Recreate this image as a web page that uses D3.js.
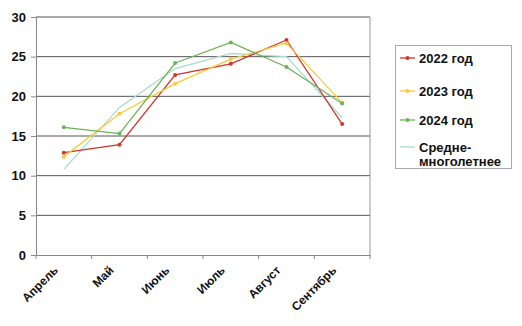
<!DOCTYPE html>
<html>
<head>
<meta charset="utf-8">
<script src="https://cdn.jsdelivr.net/npm/d3@7/dist/d3.min.js"></script>
<style>
  body { margin: 0; background: #fff; }
  svg { font-family: "Liberation Sans", Arial, sans-serif; }
</style>
</head>
<body>
<div id="chart"></div>
<script>
// Data
const months = ['Апрель', 'Май', 'Июнь', 'Июль', 'Август', 'Сентябрь'];
const y2022 = [12.9, 13.9, 22.7, 24.1, 27.1, 16.5];
const y2023 = [12.4, 17.8, 21.6, 24.7, 26.7, 19.2];
const y2024 = [16.1, 15.3, 24.2, 26.8, 23.7, 19.1];
const average = [10.8, 18.6, 23.5, 25.4, 25.0, 17.3];
const yTicks = [0, 5, 10, 15, 20, 25, 30];

const series = [
    {name: '2022 год', values: y2022, color: '#d0342c', marker: true},
    {name: '2023 год', values: y2023, color: '#f8c93a', marker: true},
    {name: '2024 год', values: y2024, color: '#6cb25a', marker: true},
    {name: ['Средне-', 'многолетнее'], values: average, color: '#a9dccd', marker: false}
];

const width = 522, height = 326;
const plot = {left: 36, right: 370, top: 17, bottom: 255};

const svg = d3.select('#chart')
    .append('svg')
    .attr('width', width)
    .attr('height', height);

// Scales
const x = d3.scaleBand()
    .domain(months)
    .range([plot.left, plot.right]);

const y = d3.scaleLinear()
    .domain([0, 30])
    .range([plot.bottom, plot.top]);

// Grid lines
svg.append('g')
    .selectAll('line')
    .data(yTicks.filter(d => d > 0))
    .enter()
    .append('line')
    .attr('x1', plot.left)
    .attr('x2', plot.right)
    .attr('y1', d => y(d))
    .attr('y2', d => y(d))
    .attr('stroke', '#555')
    .attr('stroke-width', 1);

// Right border
svg.append('line')
    .attr('x1', plot.right).attr('x2', plot.right)
    .attr('y1', plot.top).attr('y2', plot.bottom)
    .attr('stroke', '#999');

// Y axis
svg.append('g')
    .attr('transform', `translate(${plot.left},0)`)
    .call(d3.axisLeft(y).tickValues(yTicks).tickSize(5).tickSizeOuter(0))
    .call(g => g.select('.domain').attr('stroke', '#888'))
    .call(g => g.selectAll('.tick line').attr('stroke', '#888'))
    .call(g => g.selectAll('text')
        .attr('font-size', '13px')
        .attr('font-weight', 'bold')
        .attr('fill', '#111')
        .attr('x', -10));

// X axis
const xAxis = svg.append('g')
    .attr('transform', `translate(0,${plot.bottom})`)
    .call(d3.axisBottom(x).tickSize(0).tickSizeOuter(0))
    .call(g => g.select('.domain').attr('stroke', '#888'));

xAxis.selectAll('.tick text')
    .attr('font-size', '12px')
    .attr('font-weight', 'bold')
    .attr('fill', '#111')
    .attr('text-anchor', 'end')
    .attr('dy', null)
    .attr('y', 0)
    .attr('transform', 'translate(-5,16) rotate(-45)');

// Tick marks at band edges
xAxis.selectAll('.edge')
    .data(months.map(m => x(m)).concat([plot.right]))
    .enter()
    .append('line')
    .attr('x1', d => d)
    .attr('x2', d => d)
    .attr('y1', 0)
    .attr('y2', 4)
    .attr('stroke', '#888');

// Lines
const cx = i => x(months[i]) + x.bandwidth() / 2;
const line = d3.line()
    .x((d, i) => cx(i))
    .y(d => y(d));

// Draw the average line first so others sit on top
[series[3], series[0], series[1], series[2]].forEach(s => {
    svg.append('path')
        .datum(s.values)
        .attr('fill', 'none')
        .attr('stroke', s.color)
        .attr('stroke-width', 1.3)
        .attr('d', line);
    if (s.marker) {
        svg.selectAll(null)
            .data(s.values)
            .enter()
            .append('circle')
            .attr('cx', (d, i) => cx(i))
            .attr('cy', d => y(d))
            .attr('r', 2)
            .attr('fill', s.color);
    }
});

// Legend
const legend = svg.append('g');
legend.append('rect')
    .attr('x', 395.5)
    .attr('y', 45.5)
    .attr('width', 116)
    .attr('height', 123)
    .attr('fill', '#fff')
    .attr('stroke', '#aaa');

const rowY = [58, 91, 120, 147];
series.forEach((s, i) => {
    const item = legend.append('g')
        .attr('transform', `translate(400,${rowY[i]})`);
    item.append('line')
        .attr('x1', 0).attr('x2', 15)
        .attr('y1', 0).attr('y2', 0)
        .attr('stroke', s.color)
        .attr('stroke-width', 1.3);
    if (s.marker) {
        item.append('circle')
            .attr('cx', 7.5).attr('cy', 0).attr('r', 2)
            .attr('fill', s.color);
    }
    const names = Array.isArray(s.name) ? s.name : [s.name];
    names.forEach((n, j) => {
        item.append('text')
            .attr('x', 19)
            .attr('y', 5 + j * 14)
            .attr('font-size', '13px')
            .attr('font-weight', 'bold')
            .attr('fill', '#111')
            .text(n);
    });
});
</script>
</body>
</html>
